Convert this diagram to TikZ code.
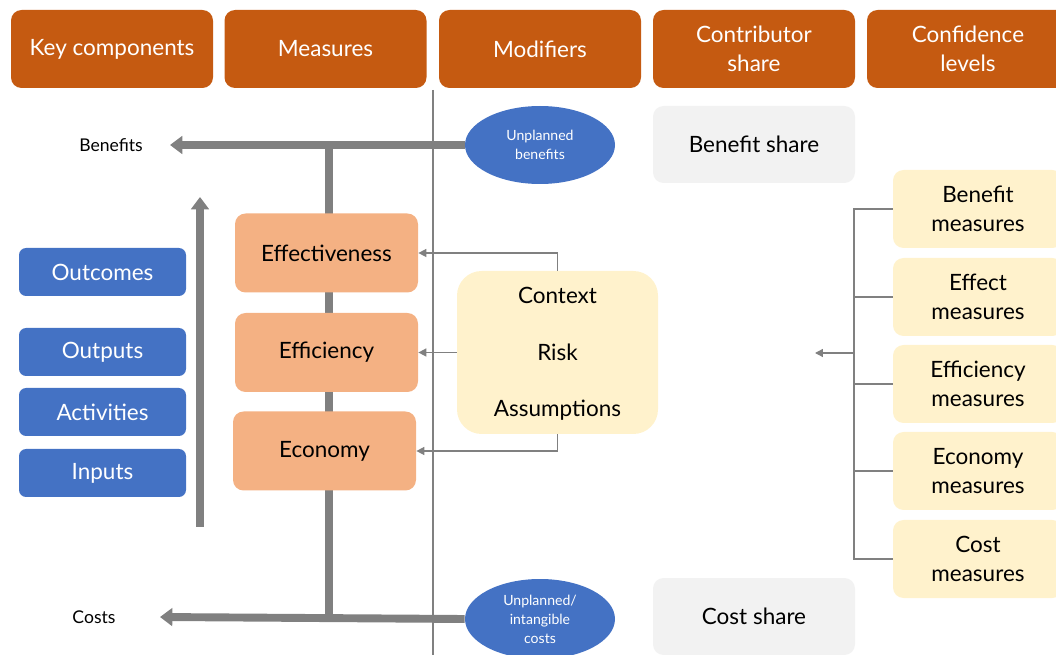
\documentclass[tikz,border=0pt]{standalone}
\usepackage{fontspec}
\setmainfont{Lato}
\usetikzlibrary{arrows.meta,shapes.geometric,backgrounds}
\definecolor{headorange}{HTML}{C55A11}
\definecolor{compblue}{HTML}{4472C4}
\definecolor{measorange}{HTML}{F4B183}
\definecolor{modyellow}{HTML}{FFF2CC}
\definecolor{sharegray}{HTML}{F2F2F2}
\definecolor{linegray}{HTML}{808080}
\tikzset{
  head/.style={rectangle, rounded corners=6pt, fill=headorange, text=white, minimum width=202*0.02cm, minimum height=78*0.02cm, align=center, font=\fontsize{12.8}{16.3}\selectfont},
  comp/.style={rectangle, rounded corners=4pt, fill=compblue, text=white, minimum width=167*0.02cm, minimum height=48*0.02cm, font=\fontsize{12.8}{14.5}\selectfont},
  meas/.style={rectangle, rounded corners=6pt, fill=measorange, minimum width=183*0.02cm, minimum height=79*0.02cm, font=\fontsize{12.8}{14.5}\selectfont},
  conf/.style={rectangle, rounded corners=6pt, fill=modyellow, minimum width=170*0.02cm, minimum height=78*0.02cm, align=center, font=\fontsize{12.8}{16.5}\selectfont},
  share/.style={rectangle, rounded corners=6pt, fill=sharegray, minimum width=202*0.02cm, minimum height=77*0.02cm, font=\fontsize{12.8}{14.5}\selectfont},
  ellip/.style={ellipse, fill=compblue, text=white, minimum width=150*0.02cm, minimum height=78*0.02cm, inner sep=0pt, align=center, font=\fontsize{8}{10.8}\selectfont},
  lbl/.style={font=\fontsize{10}{12}\selectfont},
  big/.style={line width=4.5pt, linegray, -{Triangle[length=7pt,width=10pt]}},
  thin/.style={line width=0.8pt, linegray},
  thinarr/.style={thin, -{Triangle[length=4.5pt,width=4.5pt]}},
}
\begin{document}
\begin{tikzpicture}[x=0.02cm, y=-0.02cm]
\useasboundingbox (0,0) rectangle (1056,655);
\clip (0,0) rectangle (1056,655);
% column headers
\node[head] (hkey) at (112,49) {Key components};
\node[head] (hmea) at (325.5,49) {Measures};
\node[head] (hmod) at (540,49) {Modifiers};
\node[head] (hcon) at (754,49) {Contributor\\share};
\node[head] (hcnf) at (968,49) {Confidence\\levels};
% key components
\node[comp] (outc) at (102.5,272) {Outcomes};
\node[comp] (outp) at (102.5,352) {Outputs};
\node[comp] (actv) at (102.5,412) {Activities};
\node[comp] (inpt) at (102.5,473) {Inputs};
% measures
\node[meas] (effe) at (326.5,253) {Effectiveness};
\node[meas] (effi) at (326.5,352.5) {Efficiency};
\node[meas] (econ) at (324.5,451) {Economy};
% modifiers
\node[rectangle, rounded corners=14pt, fill=modyellow, minimum width=201*0.02cm, minimum height=163*0.02cm] (modf) at (557.5,352.5) {};
\node[font=\fontsize{12.8}{14.5}\selectfont] (ctxt) at (557.5,295) {Context};
\node[font=\fontsize{12.8}{14.5}\selectfont] (risk) at (557.5,352) {Risk};
\node[font=\fontsize{12.8}{14.5}\selectfont] (assm) at (557.5,410) {Assumptions};
% benefits and costs
\node[ellip] (ubft) at (540,145) {Unplanned\\benefits};
\node[ellip, minimum height=80*0.02cm] (ucst) at (540,619) {Unplanned/\\intangible\\costs};
\node[lbl] (bent) at (111,145) {Benefits};
\node[lbl] (cost) at (94,617) {Costs};
\coordinate (btip) at (170,145);
\coordinate (ctip) at (160,617);
\coordinate (spt) at (329,145);
\coordinate (spb) at (329,617);
% contributor share
\node[share] (bshr) at (754,144.5) {Benefit share};
\node[share] (cshr) at (754,616.5) {Cost share};
% confidence levels
\node[conf] (cbm) at (978,209) {Benefit\\measures};
\node[conf] (cem) at (978,297) {Effect\\measures};
\node[conf] (cfm) at (978,384) {Efficiency\\measures};
\node[conf] (cnm) at (978,471) {Economy\\measures};
\node[conf] (ccm) at (978,559) {Cost\\measures};
\coordinate (conf) at (815,353);
\begin{scope}[on background layer]
\draw[thin] (433,90) -- (433,655);
\draw[line width=4.5pt, linegray] (spt) -- (spb);
\draw[big] (ubft.west) -- (btip);
\draw[big] (ucst.west) -- (ctip);
\draw[big] (200,527) -- (200,197);
\end{scope}
\draw[thinarr] (modf.north) |- (effe.east);
\draw[thinarr] (modf.west) -- (effi.east);
\draw[thinarr] (modf.south) |- (econ.east);
\draw[thin] (cbm.west) -| (854,353);
\draw[thin] (ccm.west) -| (854,353);
\draw[thin] (cem.west) -- (854,297);
\draw[thin] (cfm.west) -- (854,384);
\draw[thin] (cnm.west) -- (854,471);
\draw[thinarr] (854,353) -- (conf);
\end{tikzpicture}
\end{document}
